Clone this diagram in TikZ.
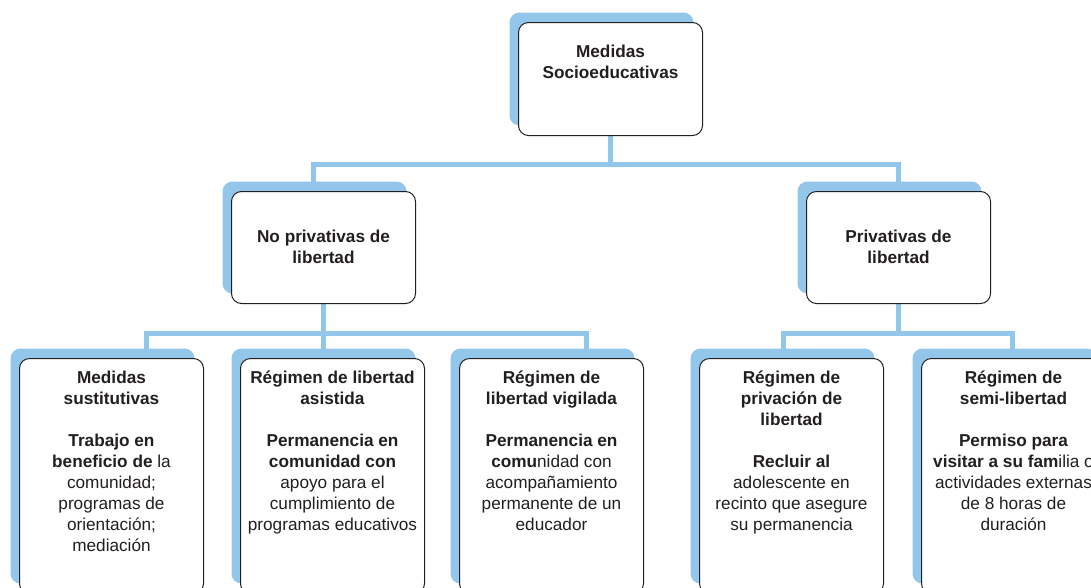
\documentclass[tikz,border=0pt]{standalone}
\usepackage{fontspec}
\setmainfont{Liberation Sans}
\usetikzlibrary{shadows,backgrounds}

\definecolor{azul}{RGB}{146,198,234}
\definecolor{tinta}{RGB}{35,31,32}

% text of a box: height, space above the first line, lines
\newcommand{\cajatxt}[3]{\parbox[t][#1][t]{184pt}{\centering\vspace*{#2}\strut #3}}

\begin{document}
\begin{tikzpicture}[x=1pt, y=-1pt,
  caja/.style = {draw=tinta, line width=1pt, rounded corners=10pt, fill=white, inner sep=0pt, anchor=north west, text=tinta, font={\fontsize{17.2}{21}\selectfont}, general shadow={fill=azul, shadow xshift=-9pt, shadow yshift=10pt}},
  conector/.style = {draw=azul, line width=5pt}]

\useasboundingbox (0,0) rectangle (1091,587);
\clip (0,0) rectangle (1091,587);

% Boxes
\node[caja] (medidas) at (518,22) {\cajatxt{113pt}{20.3pt}{\bfseries Medidas\\Socioeducativas}};

\node[caja] (nopriv) at (231,191) {\cajatxt{112pt}{36.3pt}{\bfseries No privativas de\\libertad}};
\node[caja] (priv) at (806,191) {\cajatxt{112pt}{36.3pt}{\bfseries Privativas de\\libertad}};

\node[caja] (sust) at (19,358) {\cajatxt{235pt}{10.3pt}{\textbf{Medidas\\sustitutivas}\\[21pt]
  \textbf{Trabajo en\\beneficio de} la\\comunidad;\\programas de\\orientación;\\mediación}};
\node[caja] (asist) at (240,358) {\cajatxt{235pt}{10.3pt}{\textbf{Régimen de libertad\\asistida}\\[21pt]
  \textbf{Permanencia en\\comunidad con}\\apoyo para el\\cumplimiento de\\programas educativos}};
\node[caja] (vigil) at (459,358) {\cajatxt{235pt}{10.3pt}{\textbf{Régimen de\\libertad vigilada}\\[21pt]
  \textbf{Permanencia en\\comu}nidad con\\acompañamiento\\permanente de un\\educador}};
\node[caja] (privac) at (699,358) {\cajatxt{235pt}{10.3pt}{\textbf{Régimen de\\privación de\\libertad}\\[21pt]
  \textbf{Recluir al}\\adolescente en\\recinto que asegure\\su permanencia}};
\node[caja] (semi) at (921,358) {\cajatxt{235pt}{10.3pt}{\textbf{Régimen de\\semi-libertad}\\[21pt]
  \textbf{Permiso para\\visitar a su fam}ilia o\\actividades externas\\de 8 horas de\\duración}};

% Connectors
\begin{scope}[on background layer]
\draw[conector] (medidas.south) -- ++(0,29);
\draw[conector] ([xshift=-10pt]nopriv.north) -- ++(0,-27) -| (priv.north);

\draw[conector] (nopriv.south) -- (nopriv.south |- asist.north);
\draw[conector] ([xshift=35pt]sust.north) -- ++(0,-24.5) -| ([xshift=35pt]vigil.north);

\draw[conector] (priv.south) -- ++(0,30.5);
\draw[conector] ([xshift=-8pt]privac.north) -- ++(0,-24.5) -| ([xshift=-1pt]semi.north);
\end{scope}

\end{tikzpicture}
\end{document}
